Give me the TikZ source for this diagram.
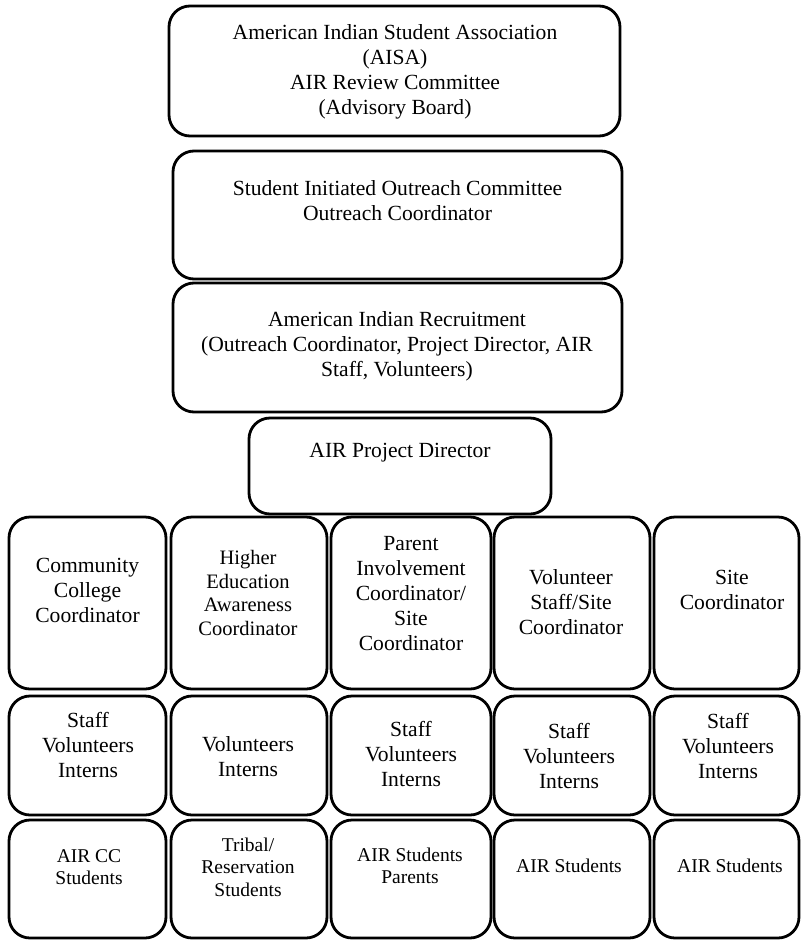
\documentclass[tikz,border=0pt]{standalone}
\usepackage{fontspec}
\setmainfont{Liberation Serif}
\begin{document}
\begin{tikzpicture}[x=1pt, y=-1pt,
  box/.style={draw, line width=2.8pt, rounded corners=21pt, inner sep=0pt},
  lbl/.style={align=center, inner sep=0pt, font=\fontsize{21.6}{25}\selectfont},
  smalllbl/.style={lbl, font=\fontsize{19.5}{22.5}\selectfont}]
\useasboundingbox (0,0) rectangle (801,940);
% upper boxes
\node[box, minimum width=451pt, minimum height=130pt] (aisa) at (394.5,71) {};
\node[box, minimum width=449pt, minimum height=128pt] (sioc) at (397.5,215) {};
\node[box, minimum width=449pt, minimum height=129pt] (recruit) at (397.5,347.5) {};
\node[box, minimum width=302pt, minimum height=96pt] (director) at (400,466) {};
\node[lbl] (aisa-txt) at (395,72) {American Indian Student Association\\(AISA)\\AIR Review Committee\\(Advisory Board)};
\node[lbl] (sioc-txt) at (397.5,201) {Student Initiated Outreach Committee\\Outreach Coordinator};
\node[lbl] (recruit-txt) at (397,346) {American Indian Recruitment\\(Outreach Coordinator, Project Director, AIR\\Staff, Volunteers)};
\node[lbl] (director-txt) at (400,453) {AIR Project Director};
% coordinators
\node[box, minimum width=157pt, minimum height=172pt] (cc) at (87.5,603) {};
\node[box, minimum width=156pt, minimum height=172pt] (hea) at (249,603) {};
\node[box, minimum width=160pt, minimum height=172pt] (pic) at (411,603) {};
\node[box, minimum width=156pt, minimum height=172pt] (vss) at (572,603) {};
\node[box, minimum width=145pt, minimum height=172pt] (site) at (726.5,603) {};
\node[lbl] (cc-txt) at (87.5,590) {Community\\College\\Coordinator};
\node[lbl, font=\fontsize{20.5}{23.5}\selectfont] (hea-txt) at (248,593) {Higher\\Education\\Awareness\\Coordinator};
\node[lbl] (pic-txt) at (411,594) {Parent\\Involvement\\Coordinator/\\Site\\Coordinator};
\node[lbl] (vss-txt) at (571,602) {Volunteer\\Staff/Site\\Coordinator};
\node[lbl] (site-txt) at (732,590) {Site\\Coordinator};
% helpers
\node[box, minimum width=157pt, minimum height=119pt] (cc-help) at (87.5,755.5) {};
\node[box, minimum width=156pt, minimum height=119pt] (hea-help) at (249,755.5) {};
\node[box, minimum width=160pt, minimum height=119pt] (pic-help) at (411,755.5) {};
\node[box, minimum width=156pt, minimum height=119pt] (vss-help) at (572,755.5) {};
\node[box, minimum width=145pt, minimum height=119pt] (site-help) at (726.5,755.5) {};
\node[lbl] (cc-help-txt) at (88,745) {Staff\\Volunteers\\Interns};
\node[lbl] (hea-help-txt) at (248,757) {Volunteers\\Interns};
\node[lbl] (pic-help-txt) at (411,754) {Staff\\Volunteers\\Interns};
\node[lbl] (vss-help-txt) at (569,756) {Staff\\Volunteers\\Interns};
\node[lbl] (site-help-txt) at (728,746) {Staff\\Volunteers\\Interns};
% students
\node[box, minimum width=157pt, minimum height=118pt] (cc-stu) at (87.5,879) {};
\node[box, minimum width=156pt, minimum height=118pt] (hea-stu) at (249,879) {};
\node[box, minimum width=160pt, minimum height=118pt] (pic-stu) at (411,879) {};
\node[box, minimum width=156pt, minimum height=118pt] (vss-stu) at (572,879) {};
\node[box, minimum width=145pt, minimum height=118pt] (site-stu) at (726.5,879) {};
\node[smalllbl] (cc-stu-txt) at (89,867) {AIR CC\\Students};
\node[smalllbl] (hea-stu-txt) at (248,867) {Tribal/\\Reservation\\Students};
\node[smalllbl] (pic-stu-txt) at (410,866) {AIR Students\\Parents};
\node[smalllbl] (vss-stu-txt) at (569,866) {AIR Students};
\node[smalllbl] (site-stu-txt) at (730,866) {AIR Students};
\end{tikzpicture}
\end{document}
